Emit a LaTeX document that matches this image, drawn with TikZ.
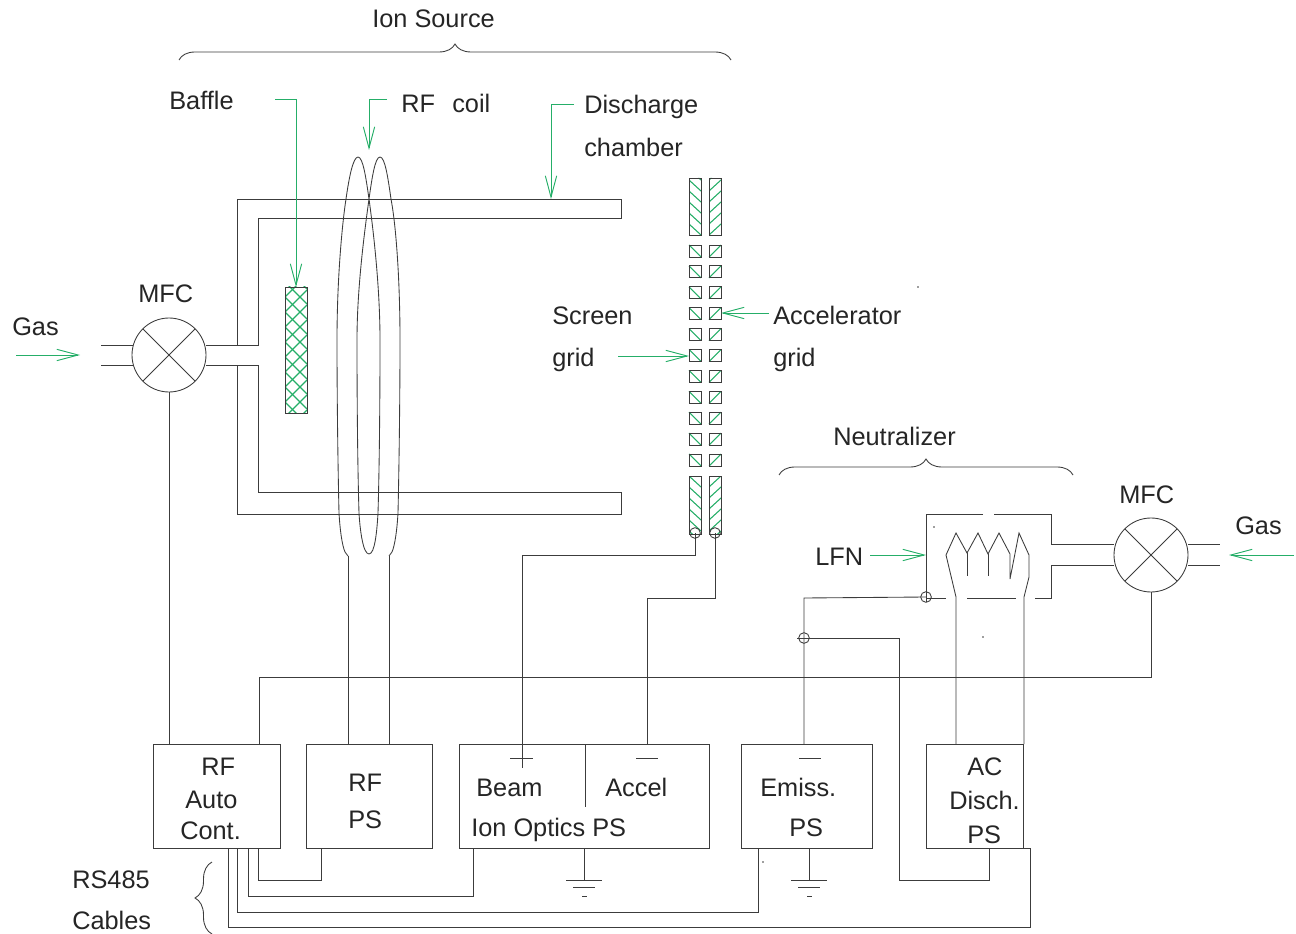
\documentclass[tikz,border=0pt]{standalone}
\usepackage{fontspec}
\setmainfont{Liberation Sans}
\usepackage{xcolor}
\usetikzlibrary{arrows.meta,positioning,decorations.pathreplacing}
\definecolor{leadgreen}{HTML}{25AE68}
\definecolor{wiregray}{HTML}{3C3C3C}
\definecolor{labelgray}{HTML}{252525}

\begin{document}
\begin{tikzpicture}[
  x=0.75pt, y=-0.75pt,
  every node/.style={font=\fontsize{19}{22}\selectfont, text=labelgray},
  wire/.style={draw=wiregray, line width=0.65pt},
  lead/.style={draw=leadgreen, line width=0.7pt, -{Straight Barb[length=16pt, width=8.5pt]}},
  hatch/.style={draw=leadgreen, line width=0.8pt},
  lbl/.style={anchor=base west, inner sep=0pt},
  psbox/.style={wire, rectangle, inner sep=0pt, outer sep=0pt, minimum height=78pt},
  mfcvalve/.style={wire, circle, inner sep=0pt, outer sep=0pt, minimum size=55.5pt},
  terminal/.style={wire, circle, inner sep=0pt, minimum size=8pt},
  brace/.style={wire, decorate, decoration={brace, amplitude=#1}}
]
\useasboundingbox (0,0) rectangle (1296,934);

% Valves and power supplies
\node[mfcvalve] (mfcL) at (169,355) {};
\node[mfcvalve] (mfcR) at (1151,555) {};
\node[psbox, minimum width=95.25pt] (rfauto) at (216.5,796) {};
\node[psbox, minimum width=94.5pt] (rfps) at (369,796) {};
\node[psbox, minimum width=187.5pt] (optics) at (584,796) {};
\node[psbox, minimum width=98.25pt] (emiss) at (806.5,796) {};
\node[psbox, minimum width=72.75pt] (acps) at (974.5,796) {};
\foreach \v in {mfcL,mfcR} {
  \draw[wire] (\v.45) -- (\v.225) (\v.135) -- (\v.315);
}

% Discharge chamber
\draw[wire] (mfcL.east |- 0,345) -- (258,345) -- (258,218) -- (621,218) -- (621,199) -- (237,199) -- (237,345);
\draw[wire] (mfcL.east |- 0,365) -- (258,365) -- (258,492) -- (621,492) -- (621,514) -- (237,514) -- (237,365);
\draw[wire] (101,345) -- (133,345) (101,365) -- (133,365);

% Baffle
\begin{scope}
  \clip (285,287) rectangle (307,413);
  \foreach \y in {267,282,...,432} {
    \draw[hatch] (285,\y) -- ++(22,22) (285,\y) -- ++(22,-22);
  }
\end{scope}
\draw[wire] (285,287) rectangle (307,413);
\coordinate (baffletop) at (296,287);

% RF coil
\coordinate (coilL) at (348,556);
\coordinate (coilR) at (389,556);
\draw[wire] (coilL) -- (345,552)
  .. controls (342,545) and (340,530) .. (339,513)
  .. controls (338,470) and (337,400) .. (337,340)
  .. controls (337,280) and (342,225) .. (346,199)
  .. controls (349,178) and (353,157) .. (358,157)
  .. controls (363,157) and (366,178) .. (369,199)
  .. controls (374,235) and (380,290) .. (380,340)
  .. controls (380,420) and (379,480) .. (378,513)
  .. controls (377,530) and (375,554) .. (369,554)
  .. controls (363,554) and (360,530) .. (359,513)
  .. controls (358,480) and (357,420) .. (357,340)
  .. controls (357,290) and (364,235) .. (369,199)
  .. controls (372,178) and (375,157) .. (380,157)
  .. controls (385,157) and (388,178) .. (391,199)
  .. controls (396,225) and (400,280) .. (400,340)
  .. controls (400,400) and (399,470) .. (398,513)
  .. controls (397,530) and (395,545) .. (392,552) -- (coilR);
\draw[wire] (coilL) -- (coilL |- rfps.north) (coilR) -- (coilR |- rfps.north);

% Grids
\begin{scope}
  \clip (689,178) rectangle (701,235) (689,476) rectangle (701,534);
  \foreach \y in {169,180,...,224,476,487,...,531} {
    \draw[hatch] (689,\y) -- ++(12,11);
  }
\end{scope}
\begin{scope}
  \clip (709,178) rectangle (721,235) (709,476) rectangle (721,534);
  \foreach \y in {169,180,...,224,476,487,...,531} {
    \draw[hatch] (721,\y) -- ++(-12,11);
  }
\end{scope}
\foreach \x in {689,709} {
  \draw[wire] (\x,178) rectangle ++(12,57) (\x,476) rectangle ++(12,58);
}
\foreach \k in {0,...,10} {
  \pgfmathsetmacro{\yc}{245+20.9*\k}
  \draw[hatch] (689,\yc) -- ++(12,12) (721,\yc) -- ++(-12,12);
  \draw[wire] (689,\yc) rectangle ++(12,12) (709,\yc) rectangle ++(12,12);
}

% Neutralizer
\draw[wire] (983,514) -- (926,514) -- (926,598);
\draw[wire] (994,514) -- (1051,514) -- (1051,544) -- (mfcR.west |- 0,544);
\draw[wire] (1035,598) -- (1051,598) -- (1051,565) -- (mfcR.west |- 0,565);
\draw[wire] (967,598) -- (1016,598);
\draw[wire] (926,598) -- (946,598);
\draw[wire] (1188,544) -- (1220,544) (1188,565) -- (1220,565);
\coordinate (filL) at (956,744);
\coordinate (filR) at (1024,744);
\draw[wire] (filL) -- (956,597) -- (946,555) -- (956,533) -- (967,553) -- (978,533) -- (988,554)
  -- (999,533) -- (1010,554) -- (1010,579) -- (1019,533) -- (1029,555) -- (1029,577) -- (1024,597) -- (filR);
\draw[wire] (967,553) -- (967,576) (988,554) -- (988,576);

% Wiring
\node[terminal] (termS) at (695,533) {};
\node[terminal] (termA) at (715,533) {};
\node[terminal] (termN) at (926,597) {};
\node[terminal] (termE) at (804,638) {};
\coordinate (beamend) at (522,768);
\coordinate (accelin) at (647,744);
\coordinate (emissin) at (804,744);
\coordinate (acret) at (989,848);
\draw[wire] (mfcL.south) -- (mfcL.south |- rfauto.north);
\draw[wire] (mfcR.south) -- (1151,677) -- (259,677) -- (259,744);
\draw[wire] (termS.center) -- ++(0,22) -| (beamend);
\draw[wire] (termA.center) -- ++(0,65) -| (accelin);
\draw[wire] (termN.center) -- (804,598) -- (emissin);
\draw[wire] (termE.center) -- (899,638) -- (899,880) -| (acret);
\draw[wire] (termE.center) ++(-7,0) -- ++(14,0) (termN.center) ++(0,-5) -- ++(0,10);
\draw[wire] (510,758) -- (533,758) (636,758) -- (658,758) (799,758) -- (821,758);
\draw[wire] (585,744) -- (585,807);

% RS485 cables
\draw[wire] (258,848) -- (258,880) -- (321,880) -- (321,848);
\draw[wire] (248,848) -- (248,896) -- (473,896) -- (473,848);
\draw[wire] (237,848) -- (237,912) -- (758,912) -- (758,848);
\draw[wire] (228,848) -- (228,927) -- (1030,927) -- (1030,848) -- (acps.south east);

% Grounds
\foreach \x in {584,809} {
  \draw[wire] (\x,848) -- (\x,880) (\x-18,880) -- (\x+18,880)
    (\x-11,887) -- (\x+11,887) (\x-2,896) -- (\x+3,896);
}

% Braces
\draw[brace=12pt] (179,60) -- (731,60);
\draw[brace=12pt] (779,475) -- (1073,475);
\draw[brace=12.75pt] (212,934) -- (212,862);

% Leaders
\coordinate (gasL) at (16,355);
\coordinate (gasLe) at (80,355);
\coordinate (gasR) at (1294,555);
\coordinate (gasRe) at (1229,555);
\coordinate (chamberpt) at (551,199);
\coordinate (screenpt) at (689,356);
\coordinate (accelpt) at (721,313);
\coordinate (lfnpt) at (926,555);
\draw[lead] (gasL) -- (gasLe);
\draw[lead] (gasR) -- (gasRe);
\draw[lead] (275,99) -- (296,99) -- (baffletop);
\draw[lead] (387,99) -- (369,99) -- (369,150);
\draw[lead] (574,104) -- (551,104) -- (chamberpt);
\draw[lead] (618,356) -- (screenpt);
\draw[lead] (769,313) -- (accelpt);
\draw[lead] (870,555) -- (lfnpt);

% Labels
\node[lbl] (tIon) at (372,28) {Ion Source};
\node[lbl] (tBaffle) at (169,110) {Baffle};
\node[lbl] (tRF) at (401,113) {RF};
\node[lbl] (tCoil) at (452,113) {coil};
\node[lbl] (tDis) at (584,114) {Discharge};
\node[lbl] (tCha) at (584,157) {chamber};
\node[lbl] (tNeu) at (833,445) {Neutralizer};
\node[lbl] (tMfcL) at (138,303) {MFC};
\node[lbl] (tGasL) at (12,335) {Gas};
\node[lbl] (tScr) at (552,325) {Screen};
\node[lbl] (tGridS) at (552,366) {grid};
\node[lbl] (tAcc) at (773,325) {Accelerator};
\node[lbl] (tGridA) at (773,366) {grid};
\node[lbl] (tLfn) at (815,565) {LFN};
\node[lbl] (tMfcR) at (1119,503) {MFC};
\node[lbl] (tGasR) at (1235,534) {Gas};
\node[lbl] (tRS) at (72,888) {RS485};
\node[lbl] (tCab) at (72,929) {Cables};
\node[lbl] (tAutoA) at (201,775) {RF};
\node[lbl] (tAutoB) at (185,808) {Auto};
\node[lbl] (tAutoC) at (180,839) {Cont.};
\node[lbl] (tPsA) at (348,791) {RF};
\node[lbl] (tPsB) at (348,828) {PS};
\node[lbl] (tBeam) at (476,796) {Beam};
\node[lbl] (tAccel) at (605,796) {Accel};
\node[lbl] (tOptics) at (471,836) {Ion Optics PS};
\node[lbl] (tEmA) at (760,796) {Emiss.};
\node[lbl] (tEmB) at (789,836) {PS};
\node[lbl] (tAcA) at (967,775) {AC};
\node[lbl] (tAcB) at (949,809) {Disch.};
\node[lbl] (tAcC) at (967,843) {PS};

% Specks
\foreach \p in {(918,287),(763,862),(983,637),(934,527)} {
  \fill[wiregray] \p circle (0.6pt);
}
\end{tikzpicture}
\end{document}
